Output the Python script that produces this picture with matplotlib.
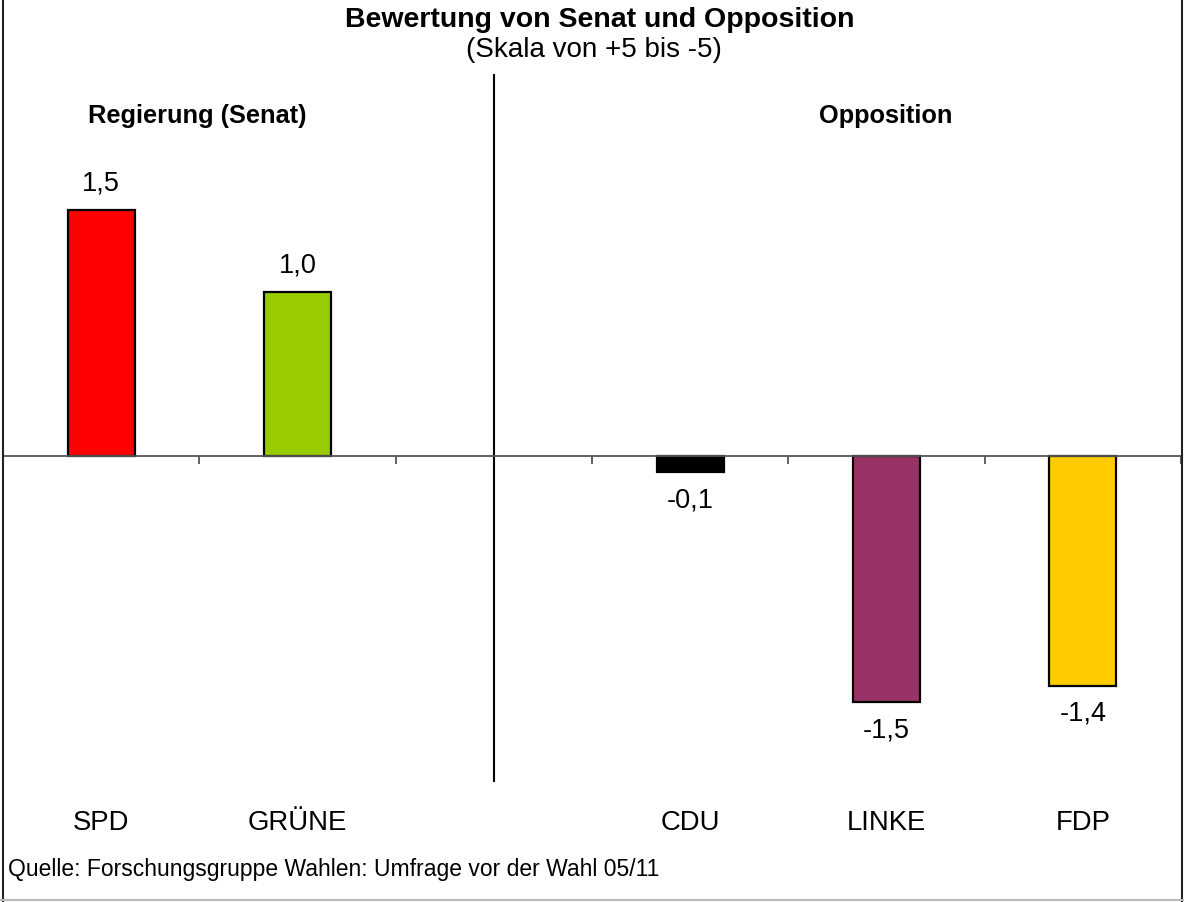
import matplotlib
matplotlib.use("Agg")
import matplotlib.pyplot as plt
from matplotlib.lines import Line2D

plt.rcParams['font.family'] = ['Liberation Sans', 'DejaVu Sans']

categories = ["SPD", "GRÜNE", "", "CDU", "LINKE", "FDP"]
values = [1.5, 1.0, None, -0.1, -1.5, -1.4]
value_labels = ["1,5", "1,0", "", "-0,1", "-1,5", "-1,4"]
colors = ["#FF0000", "#99CC00", "none", "#000000", "#993366", "#FFCC00"]
title = "Bewertung von Senat und Opposition"
subtitle = "(Skala von +5 bis -5)"
group_left = "Regierung (Senat)"
group_right = "Opposition"
source = "Quelle: Forschungsgruppe Wahlen: Umfrage vor der Wahl 05/11"

W, H = 1184, 903
fig = plt.figure(figsize=(W / 100, H / 100), dpi=100)

# axes placement in pixels
ax_left, ax_right = 3, 1181
ax_top, ax_bottom = 75, 783
zero_px, unit_px = 457, 164
ax = fig.add_axes([ax_left / W, 1 - ax_bottom / H, (ax_right - ax_left) / W, (ax_bottom - ax_top) / H])
ax.set_xlim(-0.5, len(categories) - 0.5)
ax.set_ylim(-(ax_bottom - zero_px) / unit_px, (zero_px - ax_top) / unit_px)

for i, (v, c) in enumerate(zip(values, colors)):
    if v is None:
        continue
    ax.bar(i, v, width=0.34, color=c, edgecolor="black", linewidth=1.6, zorder=3)
    off = 19.5 if v >= 0 else -19.5
    ax.annotate(value_labels[i], (i, v), xytext=(0, off), textcoords="offset points",
                ha="center", va="center", fontsize=19.5, color="black")

# zero axis line with ticks at slot boundaries
for s in ["top", "right", "left"]:
    ax.spines[s].set_visible(False)
ax.spines["bottom"].set_position(("data", 0))
ax.spines["bottom"].set_color("#555555")
ax.spines["bottom"].set_linewidth(1.3)
ax.spines["bottom"].set_zorder(4)
ax.set_xticks([i + 0.5 for i in range(len(categories))])
ax.set_xticklabels([])
ax.tick_params(axis="x", direction="out", length=6, width=1.3, color="#555555")
ax.set_yticks([])
ax.patch.set_visible(False)

# divider between government and opposition
ax.axvline(2, color="black", linewidth=1.5, zorder=2)

# category labels
for i, c in enumerate(categories):
    fig.text((ax_left + (i + 0.5) * (ax_right - ax_left) / len(categories)) / W, 1 - 823 / H, c,
             ha="center", va="center", fontsize=19.8)

fig.text(600 / W, 1 - 20 / H, title, ha="center", va="center", fontsize=20.5, fontweight="bold")
fig.text(594 / W, 1 - 50 / H, subtitle, ha="center", va="center", fontsize=20)
fig.text(197 / W, 1 - 116 / H, group_left, ha="center", va="center", fontsize=18.3, fontweight="bold")
fig.text(886 / W, 1 - 116 / H, group_right, ha="center", va="center", fontsize=18.3, fontweight="bold")
fig.text(8 / W, 1 - 870 / H, source, ha="left", va="center", fontsize=16.5)

# frame
fig.add_artist(Line2D([2.5 / W, 2.5 / W], [0, 1], color="#222222", linewidth=1.5, transform=fig.transFigure))
fig.add_artist(Line2D([1182 / W, 1182 / W], [0, 1], color="#222222", linewidth=1.5, transform=fig.transFigure))
fig.add_artist(Line2D([0, 1], [1 - 901 / H, 1 - 901 / H], color="#bbbbbb", linewidth=1.5, transform=fig.transFigure))

fig.savefig("out.png", dpi=100)
